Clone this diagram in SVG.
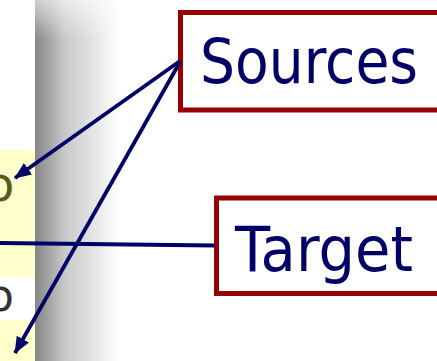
<svg xmlns="http://www.w3.org/2000/svg" width="437" height="361" viewBox="0 0 437 361">
<defs>
<linearGradient id="shadow" x1="0" y1="0" x2="1" y2="0">
<stop offset="0" stop-color="#858585"/>
<stop offset="0.35" stop-color="#c8c8c8"/>
<stop offset="1" stop-color="#ffffff"/>
</linearGradient>
<linearGradient id="topfade" x1="0" y1="0" x2="0" y2="1">
<stop offset="0" stop-color="#ffffff" stop-opacity="0.6"/>
<stop offset="1" stop-color="#ffffff" stop-opacity="0"/>
</linearGradient>
<marker id="arr" markerWidth="17" markerHeight="14" refX="16" refY="7" orient="auto" markerUnits="userSpaceOnUse">
<path d="M0,0 L17,7 L0,14 Z" fill="#000066"/>
</marker>
<style>
.box{fill:#ffffff;stroke:#990000;stroke-width:5}
.lbl{font-family:"DejaVu Sans",Verdana,sans-serif;font-size:63px;fill:#000066}
.con{stroke:#000066;stroke-width:3.8;fill:none}
</style>
</defs>
<rect width="437" height="361" fill="#ffffff"/>
<g id="background">
<rect x="0" y="150" width="35" height="127" fill="#ffffcc"/>
<rect x="0" y="320" width="35" height="41" fill="#ffffcc"/>
<rect x="35" y="0" width="85" height="361" fill="url(#shadow)"/>
<rect x="35" y="0" width="85" height="40" fill="url(#topfade)"/>
<text x="-15" y="201" font-family="DejaVu Sans, sans-serif" font-size="48" fill="#5a5a1e">o</text>
<text x="-13" y="311" font-family="DejaVu Sans, sans-serif" font-size="44" fill="#333333">o</text>
</g>
<g id="sources">
<rect class="box" x="180.5" y="12.5" width="270" height="97.5"/>
<text class="lbl" x="200" y="83" textLength="218" lengthAdjust="spacingAndGlyphs">Sources</text>
</g>
<g id="target">
<rect class="box" x="216.5" y="198" width="240" height="95.5"/>
<text class="lbl" x="235" y="271" textLength="178" lengthAdjust="spacingAndGlyphs">Target</text>
</g>
<g id="connectors">
<line class="con" x1="180" y1="61" x2="15" y2="178" marker-end="url(#arr)"/>
<line class="con" x1="180" y1="62" x2="15" y2="353" marker-end="url(#arr)"/>
<line class="con" x1="0" y1="243" x2="215" y2="245.5"/>
</g>
</svg>
